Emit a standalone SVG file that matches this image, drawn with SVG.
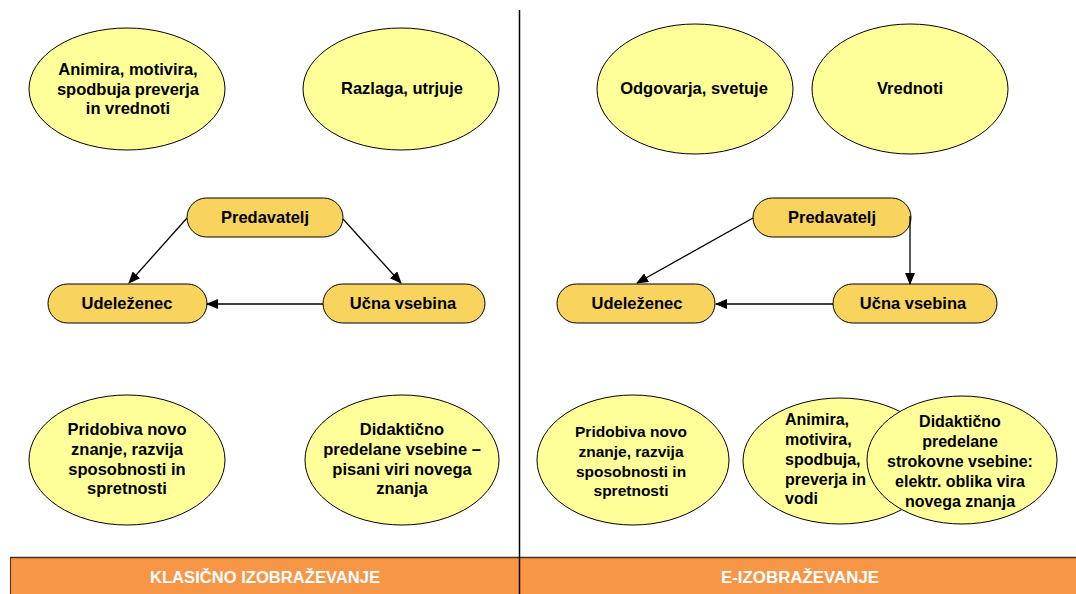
<svg xmlns="http://www.w3.org/2000/svg" width="1076" height="594" viewBox="0 0 1076 594">
<style>
.el{fill:#FFFF99;stroke:#000;stroke-width:1}
.rr{fill:#F8D35E;stroke:#000;stroke-width:1}
.t{font-family:"Liberation Sans",Arial,sans-serif;font-weight:bold;font-size:16.5px;fill:#000;text-anchor:middle}
.s{font-size:15.5px}
.xs{font-size:16px}
.m{font-size:16px}
.tl{text-anchor:start}
.c{stroke:#000;stroke-width:1.3;fill:none;marker-end:url(#ah)}
.bt{font-family:"Liberation Sans Narrow","Liberation Sans",Arial,sans-serif;font-weight:bold;font-size:16px;fill:#fff;text-anchor:middle}
</style>
<defs>
<marker id="ah" markerWidth="12" markerHeight="10" refX="11" refY="5" orient="auto" markerUnits="userSpaceOnUse">
<path d="M0,0 L12,5 L0,10 Z" fill="#000"/>
</marker>
</defs>
<rect width="1076" height="594" fill="#fff"/>

<g id="bar">
<rect x="10" y="557" width="1070" height="40" fill="#F79646"/>
<line x1="10" y1="557.5" x2="1076" y2="557.5" stroke="#4A3020" stroke-width="1.5"/>
<line x1="10.5" y1="557" x2="10.5" y2="594" stroke="#4A3020" stroke-width="1"/>
<text class="bt" x="265" y="583" textLength="230" lengthAdjust="spacingAndGlyphs">KLASIČNO IZOBRAŽEVANJE</text>
<text class="bt" x="800" y="583" textLength="158" lengthAdjust="spacingAndGlyphs">E-IZOBRAŽEVANJE</text>
</g>
<line id="divider" x1="519.5" y1="10" x2="519.5" y2="594" stroke="#000" stroke-width="1.5"/>

<g id="l-top1"><ellipse class="el" cx="127" cy="89" rx="98" ry="61"/>
<text class="t" x="128" y="75">Animira, motivira,</text><text class="t" x="128" y="94.5">spodbuja preverja</text><text class="t" x="128" y="114">in vrednoti</text></g>
<g id="l-top2"><ellipse class="el" cx="401" cy="89" rx="98" ry="61"/>
<text class="t" x="402" y="94">Razlaga, utrjuje</text></g>
<g id="r-top1"><ellipse class="el" cx="695" cy="89" rx="98" ry="65"/>
<text class="t" x="694" y="94">Odgovarja, svetuje</text></g>
<g id="r-top2"><ellipse class="el" cx="910" cy="89" rx="98" ry="65"/>
<text class="t" x="910" y="94">Vrednoti</text></g>

<g id="l-pred"><rect class="rr" x="187" y="198" width="156" height="39" rx="19.5"/><text class="t" x="265" y="223">Predavatelj</text></g>
<g id="l-ude"><rect class="rr" x="48" y="284" width="159" height="39" rx="19.5"/><text class="t" x="127" y="309">Udeleženec</text></g>
<g id="l-ucna"><rect class="rr" x="323" y="284" width="162" height="39" rx="19.5"/><text class="t" x="403" y="309">Učna vsebina</text></g>

<g id="r-pred"><rect class="rr" x="753" y="198" width="158" height="39" rx="19.5"/><text class="t" x="832" y="223">Predavatelj</text></g>
<g id="r-ude"><rect class="rr" x="557" y="284" width="158" height="39" rx="19.5"/><text class="t" x="637" y="309">Udeleženec</text></g>
<g id="r-ucna"><rect class="rr" x="833" y="284" width="164" height="39" rx="19.5"/><text class="t" x="913" y="309">Učna vsebina</text></g>

<g id="connectors">
<line class="c" x1="187" y1="218" x2="129" y2="283"/>
<line class="c" x1="343" y1="219" x2="401" y2="283"/>
<line class="c" x1="323" y1="304" x2="207" y2="304"/>
<line class="c" x1="753" y1="218" x2="637" y2="283"/>
<path class="c" d="M910,216 L910,284"/>
<line class="c" x1="833" y1="304" x2="716" y2="304"/>
</g>

<g id="l-bot1"><ellipse class="el" cx="127" cy="460" rx="98" ry="65"/>
<text class="t" x="127" y="435">Pridobiva novo</text><text class="t" x="127" y="455">znanje, razvija</text><text class="t" x="127" y="475">sposobnosti in</text><text class="t" x="127" y="494">spretnosti</text></g>
<g id="l-bot2"><ellipse class="el" cx="402" cy="460" rx="97" ry="65"/>
<text class="t" x="402" y="435">Didaktično</text><text class="t" x="402" y="455">predelane vsebine –</text><text class="t" x="402" y="475">pisani viri novega</text><text class="t" x="402" y="494">znanja</text></g>
<g id="r-bot1"><ellipse class="el" cx="633" cy="460" rx="96" ry="65"/>
<text class="t s" x="631" y="437">Pridobiva novo</text><text class="t s" x="631" y="457">znanje, razvija</text><text class="t s" x="631" y="477">sposobnosti in</text><text class="t s" x="631" y="496">spretnosti</text></g>
<g id="r-bot2"><ellipse class="el" cx="840" cy="461" rx="97" ry="63"/>
<text class="t tl xs" x="785" y="425">Animira,</text><text class="t tl xs" x="785" y="445">motivira,</text><text class="t tl xs" x="785" y="465">spodbuja,</text><text class="t tl xs" x="785" y="485">preverja in</text><text class="t tl xs" x="785" y="504">vodi</text></g>
<g id="r-bot3"><ellipse class="el" cx="962" cy="460" rx="95" ry="64"/>
<text class="t m" x="960" y="427">Didaktično</text><text class="t m" x="960" y="447">predelane</text><text class="t m" x="960" y="467">strokovne vsebine:</text><text class="t m" x="960" y="487">elektr. oblika vira</text><text class="t m" x="960" y="507">novega znanja</text></g>
</svg>
